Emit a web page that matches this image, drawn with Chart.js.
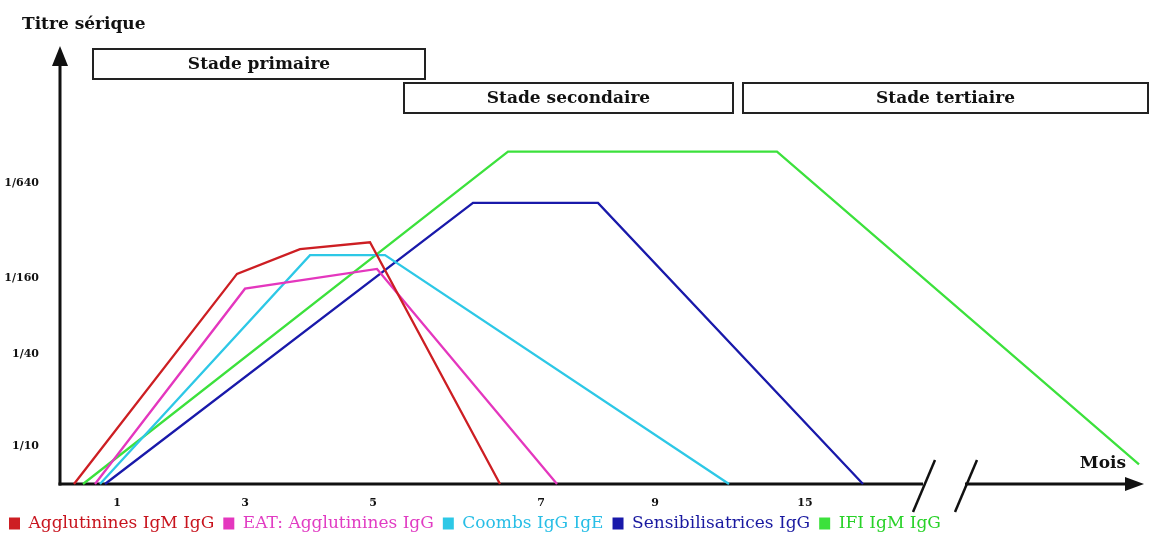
<!DOCTYPE html>
<html><head><meta charset="utf-8">
<script src="https://cdn.jsdelivr.net/npm/chart.js@4.4.0/dist/chart.umd.min.js"></script>
<style>html,body{margin:0;padding:0;background:#fff;}#wrap{width:1152px;height:542px;}</style>
</head><body><div id="wrap"><canvas id="c" width="1152" height="542"></canvas></div>
<script>
// Series names
const seriesNames = ['Agglutinines IgM IgG', 'EAT: Agglutinines IgG', 'Coombs IgG IgE', 'Sensibilisatrices IgG', 'IFI IgM IgG'];
// Time position (schematic axis units) and titre level (schematic units)
const agglutininesX = [1.4, 17.7, 24.0, 31.0, 44.0];
const agglutininesY = [0, 21.3, 23.8, 24.5, 0];
const eatX = [3.5, 18.5, 31.7, 49.7];
const eatY = [0, 19.8, 21.8, 0];
const coombsX = [4.0, 25.0, 32.5, 66.9];
const coombsY = [0, 23.2, 23.2, 0];
const sensibX = [4.5, 41.3, 53.8, 80.3];
const sensibY = [0, 28.5, 28.5, 0];
const ifiX = [2.3, 44.8, 71.7, 107.9];
const ifiY = [0, 33.7, 33.7, 2.0];
// Axis tick labels
const xTickValues = [5.7, 18.5, 31.3, 48.1, 59.5, 74.5];
const xTickLabels = ['1', '3', '5', '7', '9', '15'];
const yTickValues = [3.8, 13.2, 20.9, 30.5];
const yTickLabels = ['1/10', '1/40', '1/160', '1/640'];
// Stages
const stageLabels = ['Stade primaire', 'Stade secondaire', 'Stade tertiaire'];
const stageStart = [3.3, 34.4, 68.3];
const stageEnd = [36.5, 67.3, 108.8];
const stageRow = [0, 1, 1];
// Axis break (time axis)
const axisBreak = [86.3, 90.5];

const lineColors = ['rgb(205,30,35)', 'rgb(228,55,190)', 'rgb(45,200,230)', 'rgb(25,25,170)', 'rgb(60,225,60)'];
const legendTextColors = ['rgb(200,20,30)', 'rgb(225,60,195)', 'rgb(40,190,230)', 'rgb(25,25,160)', 'rgb(40,210,40)'];

const xs = [agglutininesX, eatX, coombsX, sensibX, ifiX];
const ys = [agglutininesY, eatY, coombsY, sensibY, ifiY];
const SERIF = "'DejaVu Serif', 'Liberation Serif', serif";

const decor = {
  id: 'decor',
  beforeDatasetsDraw(chart) {
    const {ctx, chartArea: a, scales: {x, y}} = chart;
    ctx.save();
    ctx.strokeStyle = '#111'; ctx.fillStyle = '#111'; ctx.lineWidth = 3;
    const base = y.getPixelForValue(0);
    // y axis
    ctx.beginPath(); ctx.moveTo(a.left, base + 1.5); ctx.lineTo(a.left, a.top + 16); ctx.stroke();
    ctx.beginPath(); ctx.moveTo(a.left, a.top); ctx.lineTo(a.left - 8, a.top + 20); ctx.lineTo(a.left + 8, a.top + 20); ctx.closePath(); ctx.fill();
    // x axis with break
    const b1 = x.getPixelForValue(axisBreak[0]), b2 = x.getPixelForValue(axisBreak[1]);
    ctx.beginPath(); ctx.moveTo(a.left - 1.5, base); ctx.lineTo(b1, base); ctx.stroke();
    ctx.beginPath(); ctx.moveTo(b2, base); ctx.lineTo(a.right - 14, base); ctx.stroke();
    ctx.beginPath(); ctx.moveTo(a.right, base); ctx.lineTo(a.right - 19, base - 7); ctx.lineTo(a.right - 19, base + 7); ctx.closePath(); ctx.fill();
    ctx.lineWidth = 2.5;
    [b1, b2].forEach(b => { ctx.beginPath(); ctx.moveTo(b + 12, base - 24); ctx.lineTo(b - 10, base + 28); ctx.stroke(); });
    // stage boxes
    ctx.lineWidth = 2;
    ctx.font = 'bold 17px ' + SERIF; ctx.textAlign = 'center'; ctx.textBaseline = 'middle';
    stageLabels.forEach((lab, i) => {
      const l = x.getPixelForValue(stageStart[i]), r = x.getPixelForValue(stageEnd[i]);
      const t = a.top + 3 + stageRow[i] * 34, h = 30;
      ctx.fillStyle = '#fff'; ctx.fillRect(l, t, r - l, h);
      ctx.strokeStyle = '#222'; ctx.strokeRect(l, t, r - l, h);
      ctx.fillStyle = '#111'; ctx.fillText(lab, (l + r) / 2, t + h / 2 + 1);
    });
    // axis titles
    ctx.textAlign = 'left';
    ctx.font = 'bold 17px ' + SERIF;
    ctx.fillText('Titre sérique', 22, 25);
    ctx.textAlign = 'right';
    ctx.fillText('Mois', a.right - 18, base - 20);
    ctx.restore();
  }
};

new Chart(document.getElementById('c'), {
  type: 'line',
  data: {
    datasets: seriesNames.map((name, i) => ({
      label: name,
      data: xs[i].map((v, j) => ({x: v, y: ys[i][j]})),
      borderColor: lineColors[i],
      backgroundColor: lineColors[i],
      borderWidth: 2.3,
      pointRadius: 0,
      tension: 0,
      fill: false,
      clip: false
    }))
  },
  options: {
    responsive: false,
    animation: false,
    layout: {padding: {left: 0, right: 8, top: 46, bottom: 0}},
    plugins: {
      tooltip: {enabled: false},
      legend: {
        position: 'bottom', align: 'start',
        labels: {
          boxWidth: 11, boxHeight: 12, padding: 9,
          font: {family: SERIF, size: 17},
          generateLabels(chart) {
            return chart.data.datasets.map((d, i) => ({
              text: d.label, fillStyle: d.borderColor, strokeStyle: d.borderColor,
              lineWidth: 0, fontColor: legendTextColors[i], hidden: false, datasetIndex: i
            }));
          }
        }
      }
    },
    scales: {
      x: {
        type: 'linear', min: 0, max: 108.4,
        grid: {display: false, drawTicks: false}, border: {display: false},
        afterBuildTicks(s) { s.ticks = xTickValues.map(v => ({value: v})); },
        afterFit(s) { s.height = 22; },
        ticks: {autoSkip: false, maxRotation: 0, padding: 13, color: '#111',
          font: {family: SERIF, size: 11, weight: 'bold'},
          callback: (v, i) => xTickLabels[i]}
      },
      y: {
        type: 'linear', min: 0, max: 44.4,
        grid: {display: false, drawTicks: false}, border: {display: false},
        afterBuildTicks(s) { s.ticks = yTickValues.map(v => ({value: v})); },
        afterFit(s) { s.width = 60; },
        ticks: {autoSkip: false, padding: 21, color: '#111',
          font: {family: SERIF, size: 11, weight: 'bold'},
          callback: (v, i) => yTickLabels[i]}
      }
    }
  },
  plugins: [decor]
});
</script></body></html>
